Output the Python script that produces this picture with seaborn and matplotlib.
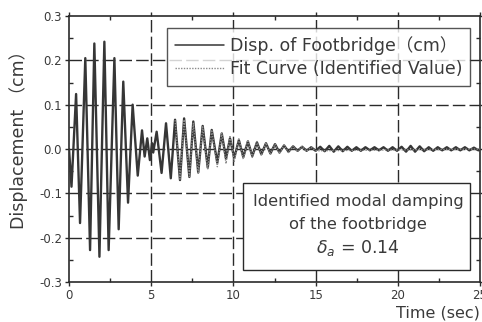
import matplotlib
matplotlib.use("Agg")
import matplotlib.pyplot as plt
import seaborn as sns
import pandas as pd
from matplotlib.patches import Rectangle
from matplotlib.ticker import MultipleLocator

# Measured footbridge displacement: successive peaks/troughs (time in s, value in cm)
disp_t = [0.0, 0.15, 0.43, 0.67, 0.99, 1.28, 1.54, 1.85, 2.15, 2.41, 2.76, 3.02,
          3.30, 3.59, 3.87, 4.18, 4.44, 4.60, 4.76, 4.92, 5.05, 5.12, 5.33, 5.63,
          5.90, 6.19, 6.45, 6.75, 7.00, 7.32, 7.56, 7.86, 8.13, 8.44, 8.68, 9.02,
          9.29, 9.55, 9.79, 10.05, 10.33, 10.60, 10.88, 11.15, 11.43, 11.70, 11.98,
          12.25, 12.53, 12.80, 13.08, 13.35, 13.63, 13.90, 14.18, 14.45, 14.73,
          15.00, 15.28, 15.55, 15.83, 16.10, 16.38, 16.65, 16.93, 17.20, 17.48,
          17.75, 18.03, 18.30, 18.58, 18.85, 19.13, 19.40, 19.68, 19.95, 20.23,
          20.50, 20.78, 21.05, 21.33, 21.60, 21.88, 22.15, 22.43, 22.70, 22.98,
          23.25, 23.53, 23.80, 24.08, 24.35, 24.63, 24.90, 25.0]
disp_v = [0.0, -0.085, 0.124, -0.167, 0.205, -0.228, 0.238, -0.243, 0.242, -0.228,
          0.205, -0.181, 0.152, -0.121, 0.100, -0.060, 0.042, -0.017, 0.024, -0.025,
          0.013, -0.008, 0.039, -0.054, 0.058, -0.066, 0.066, -0.070, 0.069, -0.063,
          0.062, -0.053, 0.052, -0.042, 0.043, -0.031, 0.035, -0.022, 0.024, -0.020,
          0.020, -0.018, 0.017, -0.016, 0.015, -0.012, 0.013, -0.010, 0.011, -0.008,
          0.008, -0.006, 0.006, -0.004, 0.005, -0.004, 0.004, -0.004, 0.005, -0.005,
          0.007, -0.006, 0.006, -0.005, 0.005, -0.004, 0.004, -0.004, 0.004, -0.003,
          0.004, -0.003, 0.004, -0.004, 0.004, -0.004, 0.005, -0.006, 0.007, -0.006,
          0.006, -0.005, 0.004, -0.004, 0.004, -0.003, 0.004, -0.003, 0.004, -0.003,
          0.004, -0.003, 0.003, -0.003, 0.0]

# Fitted free-decay curve (identified value)
fit_t = [6.45, 6.75, 7.00, 7.32, 7.56, 7.86, 8.13, 8.44, 8.68, 9.02, 9.29, 9.55,
         9.79, 10.05, 10.33, 10.60, 10.88, 11.15, 11.43, 11.70, 11.98, 12.25,
         12.53, 12.80, 13.08, 13.35, 13.63, 13.90, 14.18, 14.45, 14.73, 15.00, 25.0]
fit_v = [0.065, -0.068, 0.066, -0.062, 0.058, -0.054, 0.050, -0.046, 0.043, -0.040,
         0.036, -0.033, 0.030, -0.028, 0.025, -0.023, 0.021, -0.019, 0.017, -0.015,
         0.014, -0.012, 0.011, -0.010, 0.009, -0.008, 0.007, -0.006, 0.006, -0.005,
         0.004, -0.004, 0.0]

x_ticks = [0, 5, 10, 15, 20, 25]
y_ticks = [-0.3, -0.2, -0.1, 0.0, 0.1, 0.2, 0.3]
y_tick_labels = ["-0.3", "-0.2", "-0.1", "0.0", "0.1", "0.2", "0.3"]

sns.set_style("ticks")
plt.rcParams["font.family"] = ["DejaVu Sans", "Noto Sans CJK JP"]

ink = "#2a2a2a"
txt = "#3a3a3a"

fig = plt.figure(figsize=(4.82, 3.22), dpi=100)
ax = fig.add_axes([0.1432, 0.1242, 0.8527, 0.8261])

disp_df = pd.DataFrame({"t": disp_t, "v": disp_v})
fit_df = pd.DataFrame({"t": fit_t, "v": fit_v})

sns.lineplot(data=disp_df, x="t", y="v", ax=ax, estimator=None, sort=False,
             color="#363636", lw=1.7, label="Disp. of Footbridge（cm）", zorder=3)
sns.lineplot(data=fit_df, x="t", y="v", ax=ax, estimator=None, sort=False,
             color="#8a8a8a", lw=1.0, linestyle=(0, (1, 1)),
             label="Fit Curve (Identified Value)", zorder=4)

ax.set_xlim(0, 25)
ax.set_ylim(-0.3, 0.3)
ax.set_xticks(x_ticks)
ax.set_yticks(y_ticks)
ax.set_yticklabels(y_tick_labels)
ax.xaxis.set_minor_locator(MultipleLocator(2.5))
ax.yaxis.set_minor_locator(MultipleLocator(0.05))
ax.tick_params(axis="both", which="major", direction="out", length=3, width=1,
               color=ink, labelsize=8.5, labelcolor=txt, pad=2)
ax.tick_params(axis="both", which="minor", direction="in", length=3, width=1,
               color=ink, top=True, right=True)
ax.tick_params(axis="both", which="major", top=True, right=True)

for s in ax.spines.values():
    s.set_color(ink)
    s.set_linewidth(1.2)
    s.set_visible(True)

# dashed reference grid
for gx in [5, 10, 15, 20]:
    ax.axvline(gx, color=ink, lw=1.0, linestyle=(0, (9, 3)), zorder=1)
for gy in [-0.2, -0.1, 0.0, 0.1, 0.2]:
    ax.axhline(gy, color=ink, lw=1.0, linestyle=(0, (9, 3)), zorder=1)

ax.set_xlabel("")
ax.set_ylabel("Displacement （cm）", fontsize=12.5, color=txt)
ax.yaxis.set_label_coords(-0.1, 0.549)
fig.text(480 / 482, 0.028, "Time (sec)", fontsize=11.5, color=txt,
         ha="right", va="center")

leg = ax.legend(loc="upper right", bbox_to_anchor=(0.976, 0.955), frameon=True,
                fancybox=False, fontsize=12.5, handlelength=2.8, handletextpad=0.35,
                borderpad=0.45, labelspacing=0.3, borderaxespad=0)
leg.get_frame().set_edgecolor(ink)
leg.get_frame().set_linewidth(1.0)
for t in leg.get_texts():
    t.set_color(txt)
leg.get_lines()[0].set_linewidth(1.1)
leg.set_zorder(10)

box = Rectangle((0.423, 0.045), 0.553, 0.327, transform=ax.transAxes,
                facecolor="white", edgecolor=ink, lw=1.0, zorder=8)
ax.add_patch(box)
cx = 0.7036
ax.text(cx, 0.301, "Identified modal damping", transform=ax.transAxes,
        ha="center", va="center", fontsize=11.8, color=txt, zorder=9)
ax.text(cx, 0.218, "of the footbridge", transform=ax.transAxes,
        ha="center", va="center", fontsize=11.8, color=txt, zorder=9)
ax.text(cx, 0.128, r"$\delta_{a}$ = 0.14", transform=ax.transAxes,
        ha="center", va="center", fontsize=12.5, color=txt, zorder=9)

fig.savefig("out.png", dpi=100)
